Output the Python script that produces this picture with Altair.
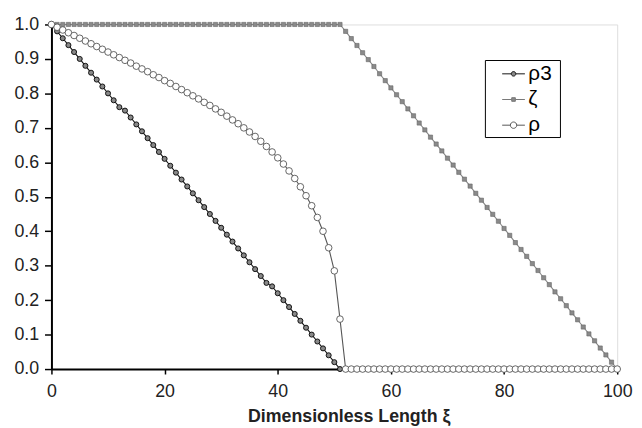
import altair as alt
import pandas as pd

xi = list(range(101))

rho3 = [1.00, 0.98, 0.96, 0.94, 0.92, 0.90, 0.88, 0.86, 0.84, 0.82,
        0.80, 0.78, 0.76, 0.75, 0.73, 0.71, 0.69, 0.67, 0.65, 0.63,
        0.61, 0.59, 0.57, 0.55, 0.53, 0.51, 0.49, 0.47, 0.45, 0.43,
        0.41, 0.39, 0.37, 0.35, 0.33, 0.31, 0.29, 0.27, 0.25, 0.24,
        0.22, 0.20, 0.18, 0.16, 0.14, 0.12, 0.10, 0.08, 0.06, 0.04,
        0.02, 0.00, 0.00, 0.00, 0.00, 0.00, 0.00, 0.00, 0.00, 0.00,
        0.00, 0.00, 0.00, 0.00, 0.00, 0.00, 0.00, 0.00, 0.00, 0.00,
        0.00, 0.00, 0.00, 0.00, 0.00, 0.00, 0.00, 0.00, 0.00, 0.00,
        0.00, 0.00, 0.00, 0.00, 0.00, 0.00, 0.00, 0.00, 0.00, 0.00,
        0.00, 0.00, 0.00, 0.00, 0.00, 0.00, 0.00, 0.00, 0.00, 0.00,
        0.00]

zeta = [1.000, 1.000, 1.000, 1.000, 1.000, 1.000, 1.000, 1.000, 1.000, 1.000,
        1.000, 1.000, 1.000, 1.000, 1.000, 1.000, 1.000, 1.000, 1.000, 1.000,
        1.000, 1.000, 1.000, 1.000, 1.000, 1.000, 1.000, 1.000, 1.000, 1.000,
        1.000, 1.000, 1.000, 1.000, 1.000, 1.000, 1.000, 1.000, 1.000, 1.000,
        1.000, 1.000, 1.000, 1.000, 1.000, 1.000, 1.000, 1.000, 1.000, 1.000,
        1.000, 1.000, 0.980, 0.959, 0.939, 0.918, 0.898, 0.878, 0.857, 0.837,
        0.816, 0.796, 0.776, 0.755, 0.735, 0.714, 0.694, 0.673, 0.653, 0.633,
        0.612, 0.592, 0.571, 0.551, 0.531, 0.510, 0.490, 0.469, 0.449, 0.429,
        0.408, 0.388, 0.367, 0.347, 0.327, 0.306, 0.286, 0.265, 0.245, 0.224,
        0.204, 0.184, 0.163, 0.143, 0.122, 0.102, 0.082, 0.061, 0.041, 0.020,
        0.000]

rho = [1.000, 0.992, 0.984, 0.976, 0.968, 0.960, 0.952, 0.944, 0.936, 0.928,
       0.920, 0.912, 0.904, 0.896, 0.888, 0.879, 0.871, 0.863, 0.854, 0.846,
       0.837, 0.829, 0.820, 0.811, 0.802, 0.793, 0.784, 0.774, 0.765, 0.755,
       0.745, 0.734, 0.723, 0.712, 0.700, 0.688, 0.675, 0.661, 0.646, 0.630,
       0.613, 0.595, 0.575, 0.553, 0.529, 0.503, 0.474, 0.440, 0.400, 0.352,
       0.285, 0.145, 0.000, 0.000, 0.000, 0.000, 0.000, 0.000, 0.000, 0.000,
       0.000, 0.000, 0.000, 0.000, 0.000, 0.000, 0.000, 0.000, 0.000, 0.000,
       0.000, 0.000, 0.000, 0.000, 0.000, 0.000, 0.000, 0.000, 0.000, 0.000,
       0.000, 0.000, 0.000, 0.000, 0.000, 0.000, 0.000, 0.000, 0.000, 0.000,
       0.000, 0.000, 0.000, 0.000, 0.000, 0.000, 0.000, 0.000, 0.000, 0.000,
       0.000]

series_names = ["ρ3", "ζ", "ρ"]
x_ticks = [0, 20, 40, 60, 80, 100]
y_ticks = [0.0, 0.1, 0.2, 0.3, 0.4, 0.5, 0.6, 0.7, 0.8, 0.9, 1.0]

rows = []
for name, vals in zip(series_names, [rho3, zeta, rho]):
    for x, v in zip(xi, vals):
        rows.append({"xi": x, "value": v, "series": name})
df = pd.DataFrame(rows)

FONT = "Liberation Sans"

xenc = alt.X("xi:Q", scale=alt.Scale(domain=[0, 100], nice=False),
             axis=alt.Axis(values=x_ticks, title="Dimensionless Length ξ", grid=False,
                           domainColor="black", domainWidth=2, tickColor="black",
                           tickWidth=1.5, tickSize=5, labelPadding=9, labelFontSize=18,
                           labelFont=FONT, labelColor="#222", titleFont=FONT,
                           titleFontSize=18, titleFontWeight="bold", titleColor="#222",
                           titlePadding=7, titleX=301, labelOverlap=False,
                           labelFlush=False))
yenc = alt.Y("value:Q", scale=alt.Scale(domain=[0, 1], nice=False),
             axis=alt.Axis(values=y_ticks, format=".1f", title=None, grid=False,
                           domainColor="black", domainWidth=2, tickColor="black",
                           tickWidth=1.5, tickSize=7, labelPadding=6, labelFontSize=18,
                           labelFont=FONT, labelColor="#222", labelOverlap=False,
                           labelFlush=False))

base = alt.Chart(df)

line_colors = {"ρ3": "#111", "ζ": "#888", "ρ": "#555"}
line_layers = [
    base.transform_filter(alt.datum.series == s).mark_line(
        strokeWidth=1.1, color=line_colors[s]).encode(x=xenc, y=yenc)
    for s in ["ζ", "ρ3", "ρ"]
]

pts_zeta = base.transform_filter(alt.datum.series == "ζ").mark_point(
    shape="square", filled=True, fill="#8a8a8a", stroke="#666", strokeWidth=0.6,
    size=18, opacity=1).encode(x=xenc, y=yenc)

pts_rho3 = base.transform_filter(alt.datum.series == "ρ3").mark_point(
    shape="circle", fill="#888", stroke="#111", strokeWidth=1,
    size=26, opacity=1).encode(x=xenc, y=yenc)

pts_rho = base.transform_filter(alt.datum.series == "ρ").mark_point(
    shape="circle", fill="white", stroke="#555", strokeWidth=0.9,
    size=45, opacity=1).encode(x=xenc, y=yenc)

path_rho3 = ("M-1,0L-0.2,0M0.2,0L1,0M-0.2,0A0.2,0.2,0,1,1,0.2,0"
             "A0.2,0.2,0,1,1,-0.2,0Z")
path_zeta = "M-1,0L-0.16,0M0.16,0L1,0M-0.16,-0.16L0.16,-0.16L0.16,0.16L-0.16,0.16Z"
path_rho = ("M-1,0L-0.28,0M0.28,0L1,0M-0.28,0A0.28,0.28,0,1,1,0.28,0"
            "A0.28,0.28,0,1,1,-0.28,0Z")

leg = alt.Legend(title=" ", titleOrient="right", titlePadding=6, titleFontSize=10,
                 orient="none", legendX=439, legendY=36,
                 strokeColor="black", padding=2, symbolSize=529,
                 symbolOpacity=1, symbolStrokeWidth=1, rowPadding=4,
                 labelFontSize=21, labelFont=FONT, labelColor="black",
                 labelOffset=3, fillColor="white", symbolOffset=15)

legend_layer = base.transform_filter(alt.datum.xi == 0).mark_point(
    size=0, filled=True).encode(
    x=xenc, y=yenc,
    shape=alt.Shape("series:N", scale=alt.Scale(domain=series_names,
                                                range=[path_rho3, path_zeta, path_rho]),
                    legend=leg),
    fill=alt.Fill("series:N", scale=alt.Scale(domain=series_names,
                                              range=["#888", "#8a8a8a", "white"]),
                  legend=leg),
    stroke=alt.Stroke("series:N", scale=alt.Scale(domain=series_names,
                                                  range=["#111", "#777", "#555"]),
                      legend=leg),
)

chart = alt.layer(*line_layers, pts_zeta, pts_rho3, pts_rho, legend_layer).properties(
    width=573, height=349,
    autosize=alt.AutoSizeParams(type="none"),
    padding={"left": 44, "top": 14, "right": 17, "bottom": 56},
).configure_view(stroke="#999", strokeWidth=1).configure(background="white")

chart.save("out.html", embed_options={"renderer": "svg", "actions": False})
